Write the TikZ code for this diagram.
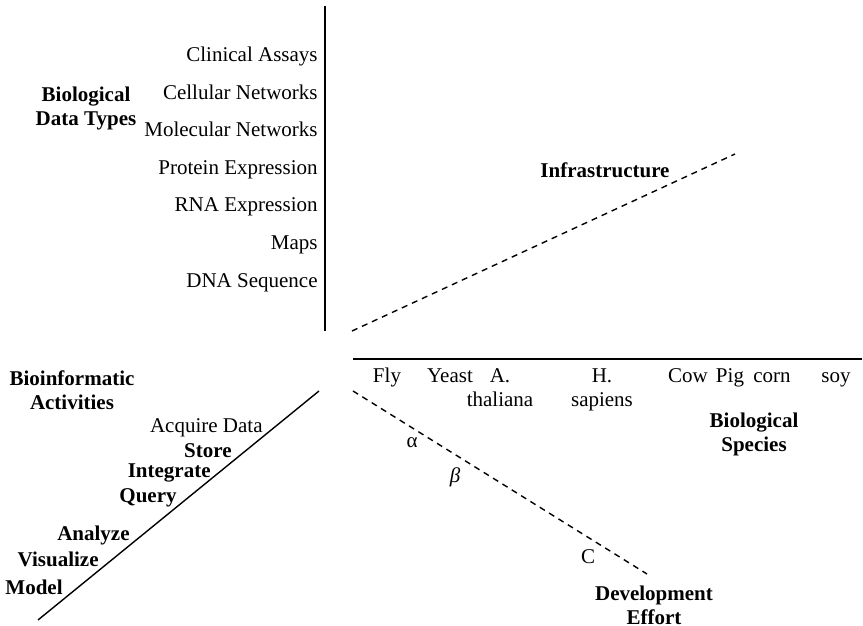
\documentclass[tikz,border=0pt]{standalone}
\usepackage{fontspec}
\setmainfont{Liberation Serif}
\usepackage{tikz}
\usetikzlibrary{positioning}

\tikzset{
  lbl/.style={inner sep=0pt, font=\fontsize{10.5}{12}\selectfont},
  ttl/.style={lbl, align=center, font=\fontsize{10.5}{12}\selectfont\bfseries},
  axis/.style={line width=0.8pt},
  dashaxis/.style={line width=0.7pt, dash pattern=on 3pt off 2.5pt}
}

\begin{document}
\begin{tikzpicture}[x=0.5pt,y=-0.5pt]
\useasboundingbox (0,0) rectangle (863,626);
% axes
\coordinate (dtop) at (325,6);
\coordinate (dbot) at (325,331);
\coordinate (infa) at (352,331);
\coordinate (infb) at (735,154);
\coordinate (spca) at (353,359);
\coordinate (spcb) at (862,359);
\coordinate (deva) at (353,391);
\coordinate (devb) at (647,574);
\coordinate (acta) at (38,620);
\coordinate (actb) at (319,391);
\draw [axis] (dtop) -- (dbot);
\draw [dashaxis] (infa) -- (infb);
\draw [axis] (spca) -- (spcb);
\draw [dashaxis] (deva) -- (devb);
\draw [line width=0.7pt] (acta) -- (actb);
% data types
\node[lbl, anchor=base east] (clin) at (318,62) {Clinical Assays};
\node[lbl, anchor=base east] (cell) at (318,99.5) {Cellular Networks};
\node[lbl, anchor=base east] (mol) at (318,137) {Molecular Networks};
\node[lbl, anchor=base east] (prot) at (318,174.5) {Protein Expression};
\node[lbl, anchor=base east] (rna) at (318,212) {RNA Expression};
\node[lbl, anchor=base east] (maps) at (318,249.5) {Maps};
\node[lbl, anchor=base east] (dna) at (318,287) {DNA Sequence};
\node[ttl] (types) at (86,108) {Biological\\Data Types};
% infrastructure
\node[ttl] (infra) at (605,170) {Infrastructure};
% species
\node[lbl, anchor=north] (fly) at (387,365) {\strut Fly};
\node[lbl, anchor=north] (yeast) at (450,365) {\strut Yeast};
\node[lbl, anchor=north, align=center] (thal) at (500,365) {\strut A.\\\strut thaliana};
\node[lbl, anchor=north, align=center] (sap) at (602,365) {\strut H.\\\strut sapiens};
\node[lbl, anchor=north] (cow) at (688,365) {\strut Cow};
\node[lbl, anchor=north] (pig) at (730,365) {\strut Pig};
\node[lbl, anchor=north] (corn) at (772,365) {\strut corn};
\node[lbl, anchor=north] (soy) at (836,365) {\strut soy};
\node[ttl] (species) at (754,434) {Biological\\Species};
% development
\node[lbl] (alf) at (412,443) {α};
\node[lbl] (bet) at (455,477) {\textit{β}};
\node[lbl] (cee) at (588,557) {C};
\node[ttl] (effort) at (654,605) {Development\\Effort};
% activities
\node[ttl] (acts) at (72,390) {Bioinformatic\\Activities};
\node[lbl, anchor=base east] (acq) at (263,432) {Acquire Data};
\node[lbl, anchor=base east, font=\fontsize{10.5}{12}\selectfont\bfseries] (store) at (232,457) {Store};
\node[lbl, anchor=base east, font=\fontsize{10.5}{12}\selectfont\bfseries] (integ) at (211,477) {Integrate};
\node[lbl, anchor=base east, font=\fontsize{10.5}{12}\selectfont\bfseries] (query) at (177,502) {Query};
\node[lbl, anchor=base east, font=\fontsize{10.5}{12}\selectfont\bfseries] (anal) at (130,540) {Analyze};
\node[lbl, anchor=base east, font=\fontsize{10.5}{12}\selectfont\bfseries] (visu) at (99,566) {Visualize};
\node[lbl, anchor=base east, font=\fontsize{10.5}{12}\selectfont\bfseries] (model) at (63,594) {Model};
\end{tikzpicture}
\end{document}
